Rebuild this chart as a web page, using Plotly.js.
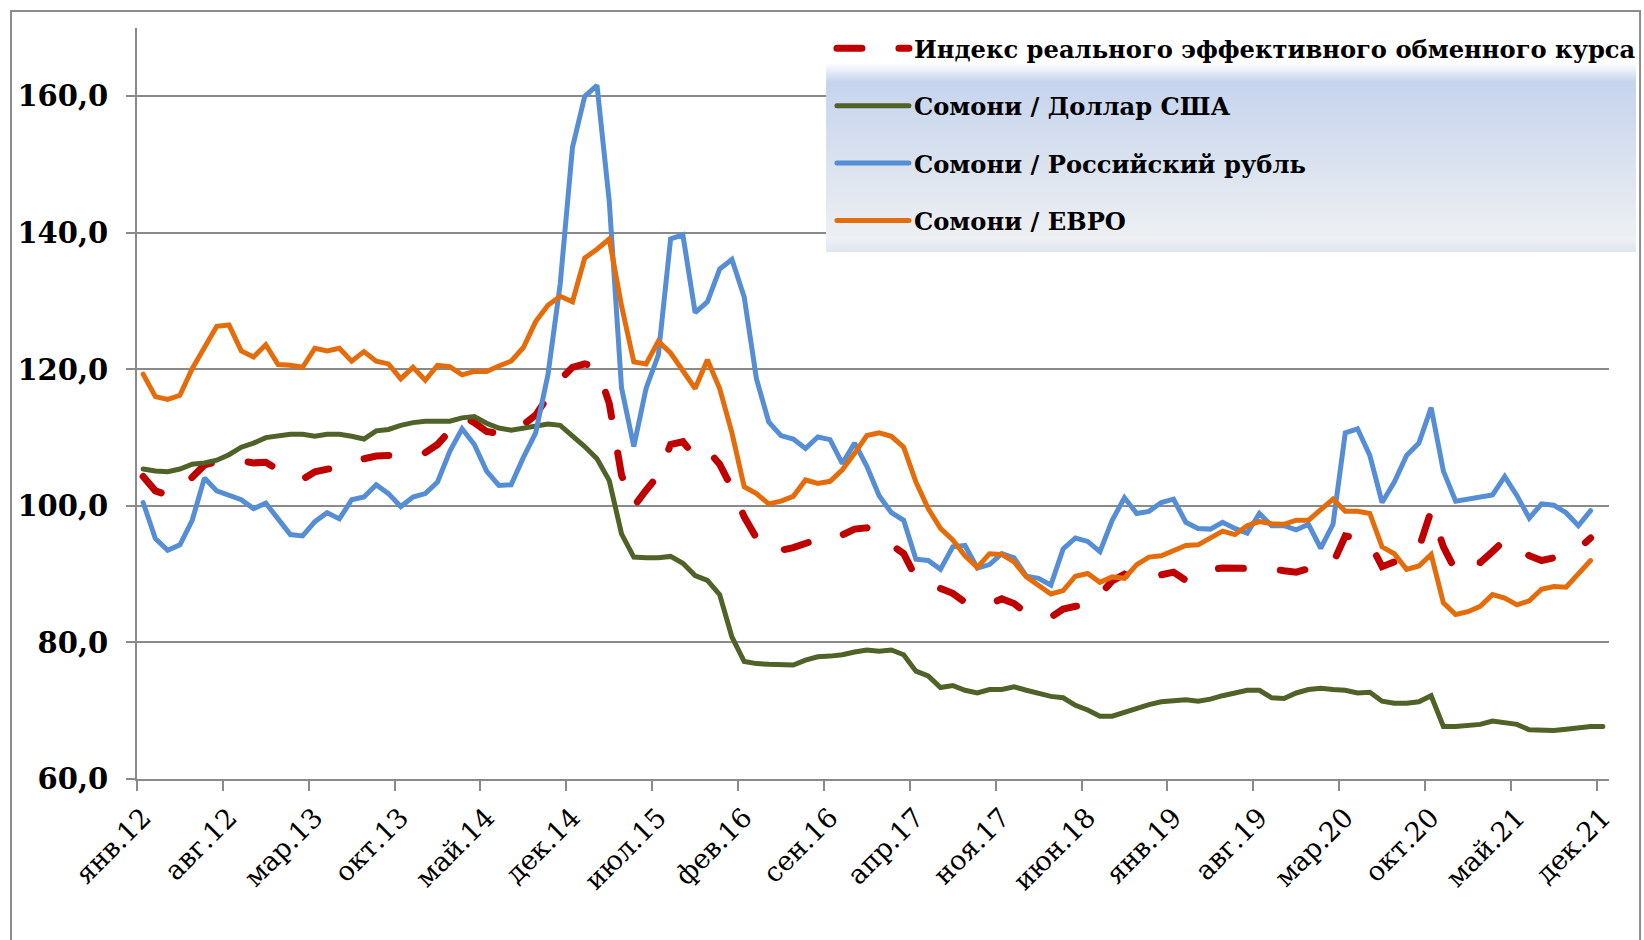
<!DOCTYPE html>
<html>
<head>
<meta charset="utf-8">
<script src="https://cdn.plot.ly/plotly-3.0.1.min.js"></script>
<style>
html,body{margin:0;padding:0;background:#ffffff;}
#chart{width:1644px;height:940px;}
.scatterlayer .js-line, .legendlines path { stroke-linecap: round; }
</style>
</head>
<body>
<div id="chart"></div>
<script>
// ---- categories (monthly, Jan 2012 - Dec 2021) ----
const monthNames = ['янв','фев','мар','апр','май','июн','июл','авг','сен','окт','ноя','дек'];
const years = ['12','13','14','15','16','17','18','19','20','21'];
const months = [];
years.forEach(y => monthNames.forEach(m => months.push(m + '.' + y)));

// ---- series ----
const reer = [
  104.3,102.2,101.6,102.5,104.2,106.0,106.5,106.6,106.6,106.3,
  106.4,105.3,104.6,103.9,105.0,105.3,105.7,106.1,106.9,107.3,
  107.4,107.3,107.3,107.8,109.0,111.0,113.1,112.2,110.9,110.6,
  110.8,111.9,113.3,116.0,118.5,120.3,120.8,120.3,115.0,104.5,
  99.9,102.3,104.5,109.0,109.4,107.2,108.2,106.1,102.6,98.4,
  95.3,93.4,93.5,93.9,94.5,95.1,94.9,95.8,96.6,96.8,
  95.9,94.3,93.0,89.5,88.6,87.9,87.2,85.9,85.3,85.6,
  86.4,85.7,84.3,83.9,83.7,84.9,85.3,85.4,87.0,89.0,
  90.0,89.2,89.3,89.9,90.3,89.1,89.9,90.7,90.9,90.9,
  90.9,90.8,90.8,90.5,90.3,90.8,91.2,91.6,95.6,95.3,
  94.6,91.1,91.8,92.6,93.8,99.3,94.0,90.5,91.9,91.7,
  93.3,95.0,94.1,92.7,92.0,92.4,93.1,93.7,95.3
];
const usd = [
  105.4,105.1,105.0,105.4,106.1,106.3,106.7,107.5,108.6,109.2,
  110.0,110.3,110.5,110.5,110.2,110.5,110.5,110.2,109.8,111.0,
  111.2,111.8,112.2,112.4,112.4,112.4,112.9,113.1,112.1,111.4,
  111.1,111.4,111.8,112.0,111.8,110.3,108.7,106.9,103.7,95.9,
  92.5,92.4,92.4,92.6,91.6,89.8,89.1,87.0,80.8,77.2,
  76.9,76.8,76.7,76.7,77.4,77.9,78.0,78.2,78.6,78.9,
  78.7,78.9,78.2,75.8,75.1,73.4,73.7,73.0,72.6,73.1,
  73.1,73.5,73.0,72.6,72.1,71.9,70.8,70.1,69.2,69.2,
  69.8,70.3,70.9,71.3,71.4,71.6,71.4,71.7,72.2,72.6,
  73.0,73.0,71.9,71.8,72.6,73.1,73.3,73.1,73.0,72.6,
  72.7,71.4,71.1,71.1,71.3,72.2,67.7,67.7,67.9,68.0,
  68.5,68.2,68.0,67.2,67.1,67.1,67.3,67.5,67.7,67.7
];
const rub = [
  100.5,95.2,93.5,94.3,97.9,104.1,102.2,101.6,100.9,99.6,
  100.4,98.1,95.8,95.6,97.7,99.0,98.1,100.9,101.3,103.1,
  101.8,99.9,101.3,101.8,103.5,108.0,111.3,109.0,105.1,103.0,
  103.1,107.1,110.7,119.2,132.5,152.5,160.0,161.6,144.6,117.3,
  108.7,117.2,122.1,139.1,139.7,128.3,129.9,134.7,136.1,130.6,
  118.6,112.3,110.3,109.8,108.4,110.1,109.7,106.2,109.2,105.8,
  101.5,99.0,97.9,92.2,92.0,90.7,94.0,94.2,90.9,91.4,
  93.0,92.4,89.7,89.4,88.4,93.7,95.3,94.8,93.3,97.9,
  101.2,98.9,99.2,100.5,101.0,97.6,96.7,96.6,97.6,96.7,
  96.0,98.9,97.1,97.1,96.5,97.3,93.8,97.3,110.7,111.3,
  107.4,100.5,103.5,107.4,109.2,114.4,105.1,100.7,101.0,101.2,
  101.6,104.3,101.5,98.2,100.3,100.1,99.0,97.1,99.3
];
const eur = [
  119.3,116.0,115.6,116.2,120.1,123.1,126.3,126.5,122.7,121.8,
  123.6,120.7,120.6,120.3,123.1,122.7,123.1,121.2,122.6,121.2,
  120.8,118.6,120.3,118.4,120.6,120.4,119.2,119.7,119.7,120.5,
  121.2,123.2,127.0,129.4,130.7,129.9,136.3,137.6,139.1,129.3,
  121.1,120.8,124.1,122.4,119.8,117.2,121.4,117.2,110.7,102.8,
  101.8,100.3,100.7,101.4,103.8,103.3,103.6,105.3,107.7,110.3,
  110.7,110.2,108.6,103.5,99.6,96.7,95.0,92.7,91.0,93.0,
  92.9,91.8,89.6,88.3,87.1,87.6,89.7,90.1,88.8,89.6,
  89.4,91.4,92.5,92.7,93.5,94.2,94.3,95.3,96.3,95.8,
  97.1,97.7,97.4,97.3,97.9,97.9,99.5,101.0,99.2,99.2,
  98.9,94.0,93.0,90.7,91.2,92.9,85.8,84.1,84.5,85.3,
  87.0,86.5,85.5,86.1,87.8,88.2,88.1,90.1,92.0
];
const seriesNames = [
  'Индекс реального эффективного обменного курса',
  'Сомони / Доллар США',
  'Сомони / Российский рубль',
  'Сомони / ЕВРО'
];

const serif = 'DejaVu Serif, Liberation Serif, serif';

const traces = [
  {x: months.slice(0, reer.length), y: reer, name: seriesNames[0], legendgroup: 'a',
   type: 'scatter', mode: 'lines', line: {color: '#C00000', width: 7, dash: '25px,37px'}},
  {x: months.slice(0, usd.length), y: usd, name: seriesNames[1], legendgroup: 'b',
   type: 'scatter', mode: 'lines', line: {color: '#4F6228', width: 5}},
  {x: months.slice(0, rub.length), y: rub, name: seriesNames[2], legendgroup: 'c',
   type: 'scatter', mode: 'lines', line: {color: '#558ED5', width: 5}},
  {x: months.slice(0, eur.length), y: eur, name: seriesNames[3], legendgroup: 'd',
   type: 'scatter', mode: 'lines', line: {color: '#E46C0A', width: 5}}
];

const gradSvg = "<svg xmlns='http://www.w3.org/2000/svg' width='100' height='100' viewBox='0 0 100 100' preserveAspectRatio='none'>" +
  "<defs><linearGradient id='g' x1='0' y1='0' x2='0' y2='1'>" +
  "<stop offset='0' stop-color='#ffffff'/>" +
  "<stop offset='0.1' stop-color='#c6d4ed'/>" +
  "<stop offset='0.55' stop-color='#dbe3ef'/>" +
  "<stop offset='0.93' stop-color='#eef0f2'/>" +
  "<stop offset='1' stop-color='#dde5f1'/>" +
  "</linearGradient></defs><rect x='0' y='0' width='100' height='100' fill='url(#g)'/></svg>";

const gridCol = '#8a8a8a';

const layout = {
  width: 1644, height: 940,
  margin: {l: 137, r: 35, t: 28, b: 161, autoexpand: false},
  paper_bgcolor: '#ffffff', plot_bgcolor: '#ffffff',
  separators: ', ',
  showlegend: true,
  xaxis: {
    type: 'category',
    categoryorder: 'array', categoryarray: months,
    range: [-0.5, months.length - 0.5],
    tickmode: 'linear', tick0: 0, dtick: 7,
    tickson: 'boundaries',
    ticks: 'outside', ticklen: 10, tickwidth: 2, tickcolor: gridCol,
    ticklabelstandoff: 10,
    showline: true, linecolor: gridCol, linewidth: 2,
    showgrid: false, zeroline: false,
    tickangle: -45,
    tickfont: {family: serif, size: 27, color: '#000000'}
  },
  yaxis: {
    range: [60, 170],
    tickmode: 'linear', tick0: 60, dtick: 20,
    tickformat: '.1f',
    ticks: 'outside', ticklen: 9, tickwidth: 2, tickcolor: gridCol,
    ticklabelstandoff: 12,
    showline: true, linecolor: gridCol, linewidth: 2,
    showgrid: true, gridcolor: gridCol, gridwidth: 2,
    zeroline: false,
    tickfont: {family: serif, size: 29, color: '#000000', weight: 'bold'}
  },
  legend: {
    x: 0.4721, y: 1.0027, xanchor: 'left', yanchor: 'top',
    bgcolor: 'rgba(0,0,0,0)', borderwidth: 0,
    traceorder: 'grouped', tracegroupgap: 23,
    itemwidth: 72,
    font: {family: serif, size: 24.2, color: '#000000', weight: 'bold'}
  },
  images: [{
    source: 'data:image/svg+xml;charset=utf-8,' + encodeURIComponent(gradSvg),
    xref: 'paper', yref: 'paper',
    x: 0.4681, y: 0.9534, sizex: 0.5503, sizey: 0.2517,
    xanchor: 'left', yanchor: 'top', sizing: 'stretch', layer: 'above'
  }],
  shapes: [{
    type: 'rect', xref: 'paper', yref: 'paper',
    x0: -0.0856, x1: 1.0211, y0: -0.2237, y1: 1.0226,
    line: {color: '#8c8c8c', width: 2}, fillcolor: 'rgba(0,0,0,0)', layer: 'below'
  }]
};

Plotly.newPlot('chart', traces, layout, {displayModeBar: false, staticPlot: true});
</script>
</body>
</html>
